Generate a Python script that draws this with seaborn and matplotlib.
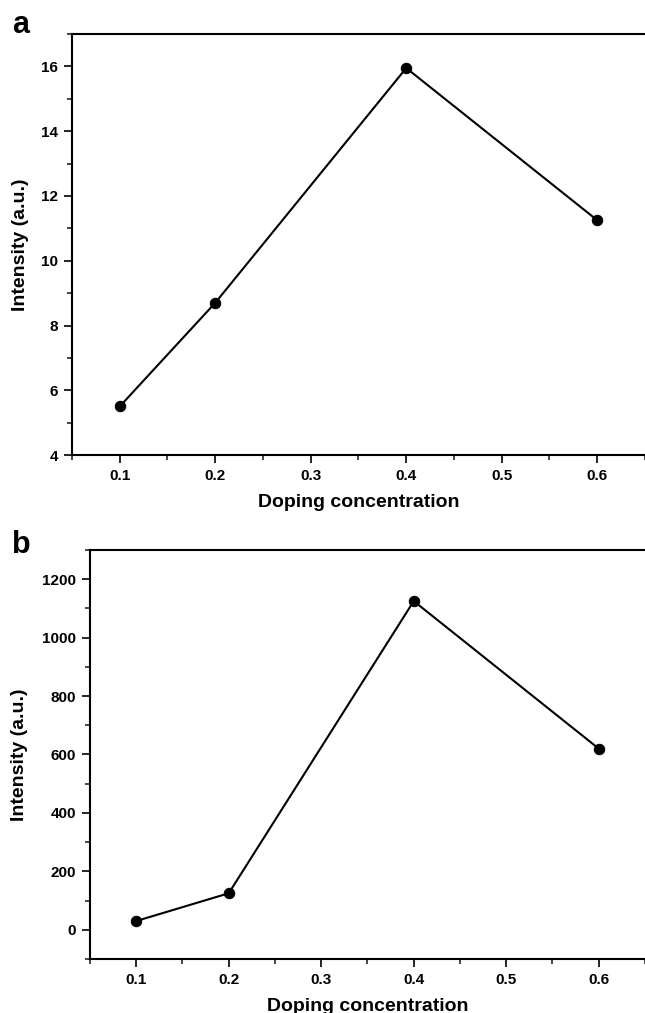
import matplotlib
matplotlib.use("Agg")
import matplotlib.pyplot as plt
from matplotlib.ticker import MultipleLocator, AutoMinorLocator
import pandas as pd
import seaborn as sns

# doping concentration vs intensity, two panels
doping = [0.1, 0.2, 0.4, 0.6]
intensity_a = [5.5, 8.7, 15.95, 11.25]
intensity_b = [30, 125, 1125, 620]

xticks = [0.1, 0.2, 0.3, 0.4, 0.5, 0.6]

sns.set_style("ticks")
plt.rcParams["font.family"] = ["Liberation Sans", "DejaVu Sans"]
plt.rcParams["font.weight"] = "bold"
plt.rcParams["axes.labelweight"] = "bold"
plt.rcParams["text.color"] = "black"
plt.rcParams["axes.labelcolor"] = "black"

fig = plt.figure(figsize=(6.45, 10.13), dpi=100)
ax_a = fig.add_axes([0.1116, 0.5508, 0.8884, 0.4156])
ax_b = fig.add_axes([0.1395, 0.0533, 0.8605, 0.4038])

panels = [
    (ax_a, intensity_a, (4, 17), 2, -0.075, -0.093),
    (ax_b, intensity_b, (-100, 1300), 200, -0.112, -0.095),
]

for ax, vals, ylim, ystep, ylab_x, xlab_y in panels:
    df = pd.DataFrame({"x": doping, "y": vals})
    sns.lineplot(data=df, x="x", y="y", ax=ax, color="black", lw=1.5,
                 marker="o", markersize=7.5, markeredgecolor="black")
    ax.set_xlim(0.05, 0.65)
    ax.set_ylim(*ylim)
    ax.set_xticks(xticks)
    ax.xaxis.set_minor_locator(AutoMinorLocator(2))
    ax.yaxis.set_major_locator(MultipleLocator(ystep))
    ax.yaxis.set_minor_locator(AutoMinorLocator(2))
    ax.tick_params(which="major", length=6, width=1.2, direction="out", pad=4,
                   labelsize=11, colors="black")
    ax.tick_params(which="minor", length=3.6, width=1.2, direction="out")
    for lab in ax.get_xticklabels() + ax.get_yticklabels():
        lab.set_fontweight("bold")
    ax.spines["right"].set_visible(False)
    for s in ["left", "bottom", "top"]:
        ax.spines[s].set_linewidth(1.5)
        ax.spines[s].set_color("black")
    ax.set_xlabel("Doping concentration", fontsize=14, fontweight="bold", color="black")
    ax.set_ylabel("Intensity (a.u.)", fontsize=14, fontweight="bold", color="black")
    ax.yaxis.set_label_coords(ylab_x, 0.5)
    ax.xaxis.set_label_coords(0.5, xlab_y)

fig.text(0.0186, 0.9674, "a", fontsize=22, fontweight="bold", va="baseline", color="black")
fig.text(0.0186, 0.454, "b", fontsize=22, fontweight="bold", va="baseline", color="black")

fig.savefig("out.png", dpi=100)
